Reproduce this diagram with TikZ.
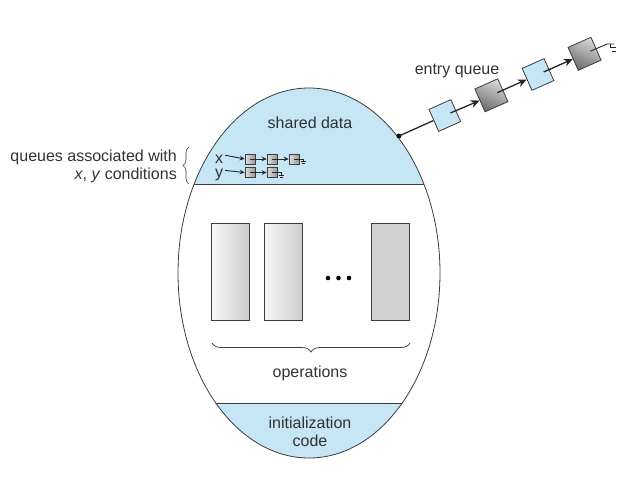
\documentclass[tikz,border=0pt]{standalone}
\usepackage{fontspec}
\setmainfont{Liberation Sans}
\usetikzlibrary{arrows.meta,decorations.pathreplacing,calc,shapes.geometric}
\definecolor{lblue}{RGB}{198,229,245}
\definecolor{txt}{RGB}{50,50,50}
\definecolor{edge}{RGB}{60,60,60}
\tikzset{
  lbl/.style={font=\fontsize{16}{18}\selectfont, text=txt, inner sep=0pt},
  qbox/.style={draw=edge, line width=0.8pt, minimum size=24pt, inner sep=0pt, rotate=24, fill=lblue},
  dbox/.style={draw=edge, line width=0.8pt, minimum size=25pt, inner sep=0pt, rotate=24,
     top color=gray!30, bottom color=gray!85!black, shading angle=-24},
  sbox/.style={draw=edge, line width=0.6pt, minimum size=10pt, inner sep=0pt,
     left color=gray!25, right color=gray!80},
  oprect/.style={draw=edge, line width=0.7pt, minimum width=38pt, minimum height=97pt, inner sep=0pt,
     left color=gray!5, right color=gray!40},
  ptr/.style={line width=1.3pt, draw=black!85, -{Stealth[length=9pt,width=8pt]}},
  sptr/.style={line width=0.9pt, draw=black!85, -{Stealth[length=5pt,width=4.5pt]}},
  gline/.style={line width=0.9pt, draw=black!85},
}
\begin{document}
\begin{tikzpicture}[x=1pt,y=-1pt]
\useasboundingbox (0,0) rectangle (624,487);
% blue regions clipped to ellipse
\begin{scope}
  \clip (309,273) ellipse [x radius=131, y radius=185];
  \fill[lblue] (170,80) rectangle (450,184);
  \fill[lblue] (170,403) rectangle (450,470);
  \draw[edge, line width=0.8pt] (170,184) -- (450,184);
  \draw[edge, line width=0.8pt] (170,403) -- (450,403);
\end{scope}
\node[ellipse, draw=edge, line width=0.8pt, minimum width=262pt, minimum height=370pt, inner sep=0pt] (egg) at (309,273) {};
% labels
\node[lbl] (shared) at (310,123) {shared data};
\node[lbl, align=center, font=\fontsize{16}{18.5}\selectfont] (init) at (310,432) {initialization\\code};
\node[lbl] (ops) at (310,373) {operations};
% operation rectangles
\node[oprect] (r1) at (230,271.5) {};
\node[oprect] (r2) at (283,271.5) {};
\node[oprect, left color=gray!35, right color=gray!35] (r3) at (390,271.5) {};
\foreach \i/\xx in {1/328,2/338.5,3/349}
  \fill[black] (\xx,278) circle (2.3) coordinate (dot\i);
% brace under operations
\coordinate (bl) at (212,343); \coordinate (br) at (410,343);
\draw[edge, line width=0.7pt, decorate, decoration={brace, amplitude=9pt, mirror}] (bl) -- (br);
% left labels and brace
\node[lbl, anchor=east, align=right] (qlab) at (177,166) {queues associated with\\\textit{x}, \textit{y} conditions};
\coordinate (lb1) at (189,184); \coordinate (lb2) at (189,147);
\draw[edge, line width=0.6pt, decorate, decoration={brace, amplitude=6pt}] (lb1) -- (lb2);
% x queue
\node[lbl, anchor=base] (xl) at (219,163.5) {x};
\node[sbox] (x1) at (250,159) {};
\node[sbox] (x2) at (272,159) {};
\node[sbox] (x3) at (294,159) {};
\draw[sptr] (xl.east) ++(2,-4) -- (x1.west);
\draw[sptr] (x1.center) -- (x2.west);
\draw[sptr] (x2.center) -- (x3.west);
\coordinate (xg) at (303,159);
\draw[gline, line width=0.6pt] (x3.center) -- (xg) -- ++(0,2.5);
\draw[gline, line width=0.6pt] ($(xg)+(-2.5,2.5)$) -- ++(5,0) ($(xg)+(-1.5,4.5)$) -- ++(3,0);
% y queue
\node[lbl, anchor=base] (yl) at (219,177) {y};
\node[sbox] (y1) at (250,172.5) {};
\node[sbox] (y2) at (272,172.5) {};
\draw[sptr] (yl.east) ++(2,-4) -- (y1.west);
\draw[sptr] (y1.center) -- (y2.west);
\coordinate (yg) at (281,172.5);
\draw[gline, line width=0.6pt] (y2.center) -- (yg) -- ++(0,2.5);
\draw[gline, line width=0.6pt] ($(yg)+(-2.5,2.5)$) -- ++(5,0) ($(yg)+(-1.5,4.5)$) -- ++(3,0);
% entry queue
\coordinate (ep) at (399,136);
\fill[black] (ep) circle (2.4);
\node[qbox] (e1) at (444.8,115.5) {};
\node[dbox] (e2) at (491.4,95.3) {};
\node[qbox] (e3) at (538,74.5) {};
\node[dbox] (e4) at (584.6,53.8) {};
\node[lbl] (eq) at (457,71) {entry queue};
\draw[line width=1.3pt, black!85] (ep) -- (e1.west);
\draw[ptr] ($(e1.center)!0.5!(e1.east)$) -- (e2.west);
\draw[ptr] ($(e2.center)!0.5!(e2.east)$) -- (e3.west);
\draw[ptr] ($(e3.center)!0.5!(e3.east)$) -- (e4.west);
\coordinate (eg) at (607,44);
\draw[gline] ($(e4.center)!0.5!(e4.east)$) -- (eg) -- ++(7,0);
\draw[gline] (eg) ++(3.5,0) -- ++(0,3.5) ++(-1,0) -- ++(6,0);
\draw[gline] (eg) ++(5,7) -- ++(4,0);
\end{tikzpicture}
\end{document}
